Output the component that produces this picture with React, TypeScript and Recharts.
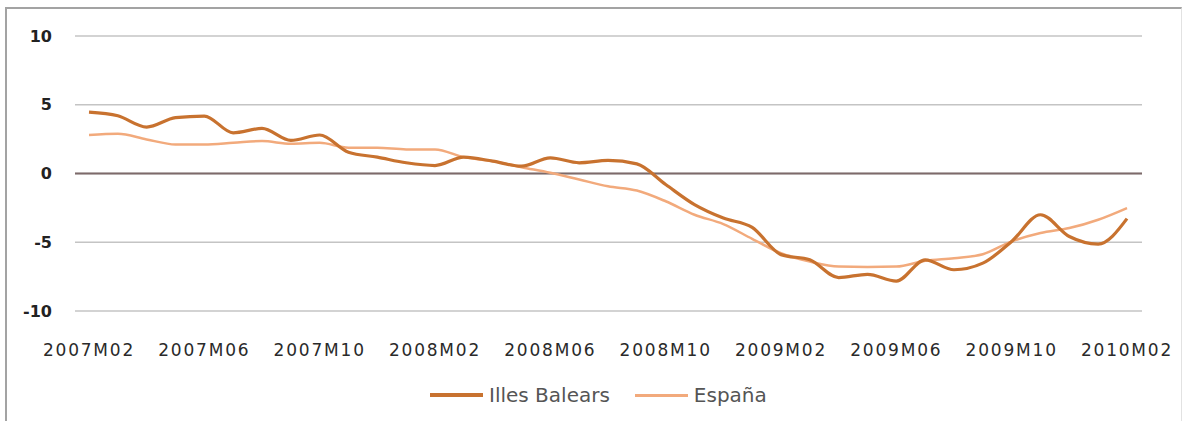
import React from "react";
import {
  LineChart,
  Line,
  XAxis,
  YAxis,
  CartesianGrid,
  ReferenceLine,
  Legend,
} from "recharts";

const MONTHS = [
  "2007M02", "2007M03", "2007M04", "2007M05", "2007M06", "2007M07", "2007M08",
  "2007M09", "2007M10", "2007M11", "2007M12", "2008M01", "2008M02", "2008M03",
  "2008M04", "2008M05", "2008M06", "2008M07", "2008M08", "2008M09", "2008M10",
  "2008M11", "2008M12", "2009M01", "2009M02", "2009M03", "2009M04", "2009M05",
  "2009M06", "2009M07", "2009M08", "2009M09", "2009M10", "2009M11", "2009M12",
  "2010M01", "2010M02",
];

const BALEARS = [
  4.47, 4.2, 3.38, 4.06, 4.18, 2.96, 3.28, 2.41, 2.8, 1.55, 1.19, 0.78, 0.58,
  1.19, 0.9, 0.53, 1.14, 0.78, 0.95, 0.7, -0.8, -2.26, -3.24, -3.92, -5.9,
  -6.28, -7.57, -7.33, -7.82, -6.28, -7.0, -6.52, -4.94, -3.0, -4.58, -5.13,
  -3.28,
];

const ESPANA = [
  2.8, 2.89, 2.48, 2.11, 2.11, 2.23, 2.36, 2.16, 2.23, 1.87, 1.87, 1.75, 1.75,
  1.19, 0.9, 0.46, 0.05, -0.44, -0.93, -1.24, -2.02, -3.0, -3.68, -4.75, -5.8,
  -6.4, -6.77, -6.8, -6.77, -6.35, -6.16, -5.87, -4.94, -4.33, -3.97, -3.36,
  -2.51,
];

const Y_TICKS = [-10, -5, 0, 5, 10];

const COLORS = {
  balears: "#c8722f",
  espana: "#f2aa7c",
};

const data = MONTHS.map((m, i) => ({
  month: m,
  balears: BALEARS[i],
  espana: ESPANA[i],
}));

const FONT = "'DejaVu Sans', sans-serif";

function ChartLegend() {
  const items = [
    { label: "Illes Balears", color: COLORS.balears, width: 4 },
    { label: "España", color: COLORS.espana, width: 3 },
  ];
  return (
    <div style={{ display: "flex", alignItems: "center", fontFamily: FONT }}>
      {items.map((it) => (
        <div
          key={it.label}
          style={{ display: "flex", alignItems: "center", marginRight: 25 }}
        >
          <div
            style={{
              width: 53,
              height: it.width,
              background: it.color,
              marginRight: 6,
            }}
          />
          <span style={{ fontSize: 20, color: "#555" }}>{it.label}</span>
        </div>
      ))}
    </div>
  );
}

export default function App() {
  return (
    <div
      style={{
        position: "fixed",
        left: 0,
        top: 0,
        width: 1184,
        height: 421,
        background: "#fff",
        overflow: "hidden",
      }}
    >
      <div
        style={{
          position: "absolute",
          left: 5,
          top: 7,
          width: 1174,
          height: 430,
          borderLeft: "2px solid #a3a3a3",
          borderTop: "2px solid #a3a3a3",
          borderRight: "1px solid #e2e2e2",
        }}
      />
      <div style={{ position: "absolute", left: 0, top: 0 }}>
        <LineChart
          width={1184}
          height={421}
          data={data}
          margin={{ top: 36, right: 42, left: 0, bottom: 0 }}
        >
          <CartesianGrid vertical={false} stroke="#c4c4c4" strokeWidth={1.5} />
          <XAxis
            dataKey="month"
            interval={3}
            axisLine={false}
            tickLine={false}
            tickSize={0}
            tickMargin={33}
            height={86}
            padding={{ left: 14, right: 15 }}
            tick={{
              fontSize: 17,
              fill: "#2a2a2a",
              fontFamily: FONT,
              letterSpacing: 1.8,
            }}
          />
          <YAxis
            domain={[-10, 10]}
            ticks={Y_TICKS}
            axisLine={false}
            tickLine={false}
            tickSize={0}
            tickMargin={23}
            width={75}
            tick={{
              fontSize: 16,
              fill: "#222",
              fontFamily: FONT,
              fontWeight: "bold",
            }}
          />
          <ReferenceLine y={0} stroke="#7d6a6a" strokeWidth={2} />
          <Legend
            verticalAlign="bottom"
            content={() => <ChartLegend />}
            wrapperStyle={{ left: 430, bottom: 14, width: 500 }}
          />
          <Line
            type="monotone"
            dataKey="espana"
            name="España"
            stroke={COLORS.espana}
            strokeWidth={2.5}
            dot={false}
            isAnimationActive={false}
          />
          <Line
            type="monotone"
            dataKey="balears"
            name="Illes Balears"
            stroke={COLORS.balears}
            strokeWidth={3.2}
            dot={false}
            isAnimationActive={false}
          />
        </LineChart>
      </div>
    </div>
  );
}
